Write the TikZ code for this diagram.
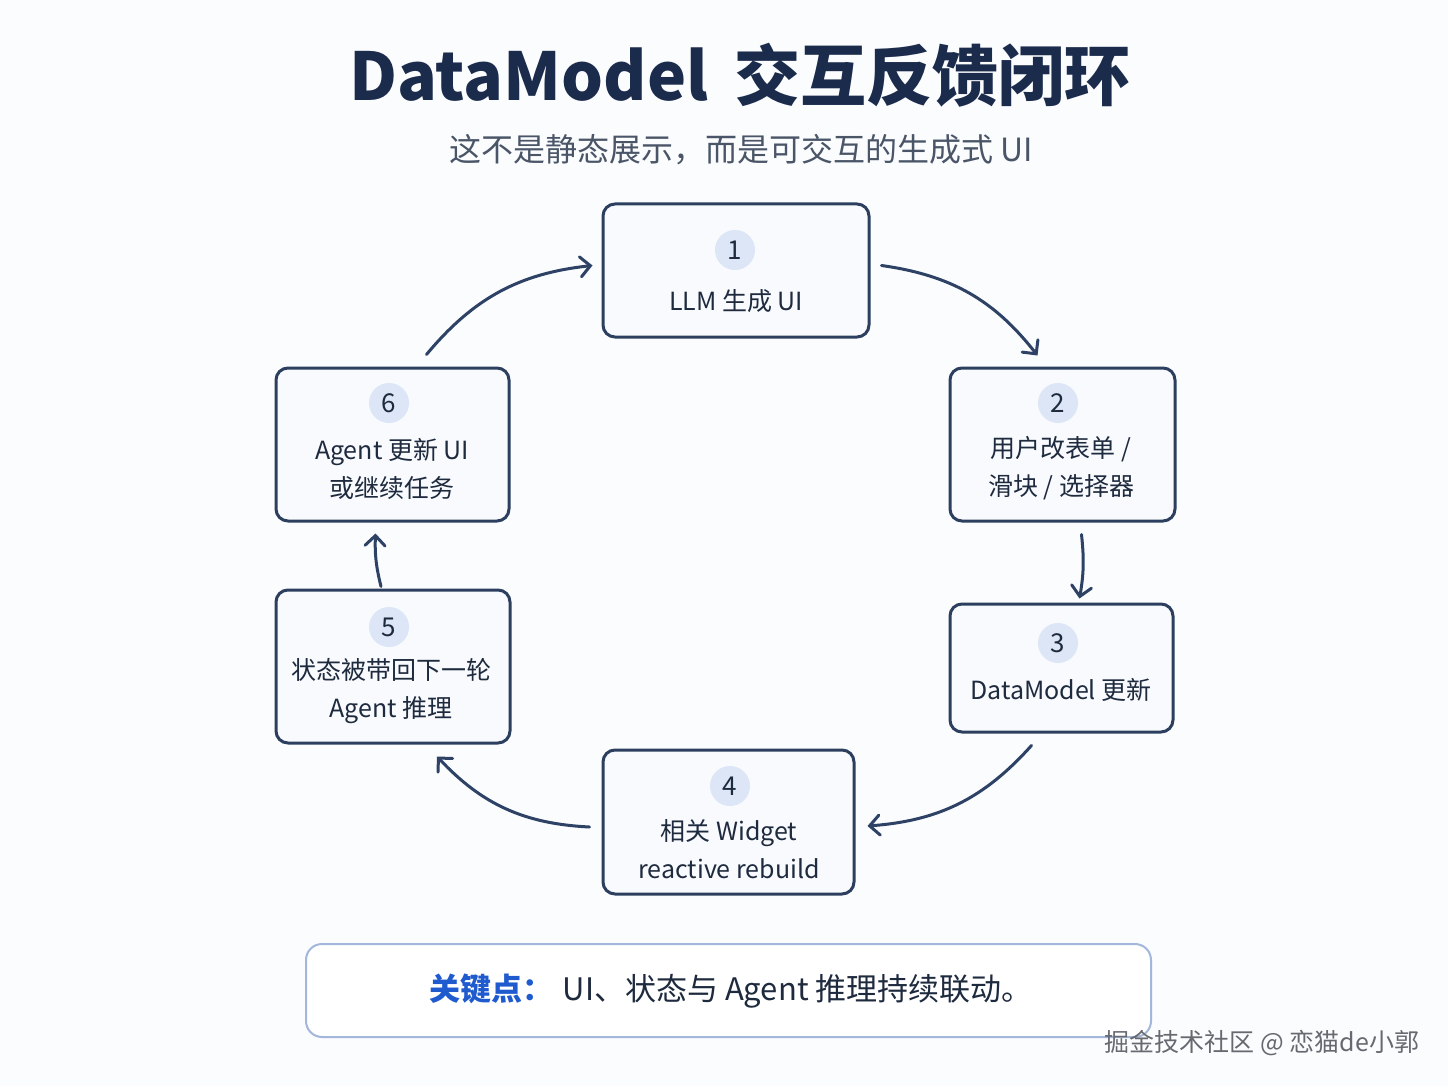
\documentclass[tikz,border=0pt]{standalone}
\usepackage{fontspec}
\setmainfont{Noto Sans CJK SC}
\usetikzlibrary{calc,arrows.meta}
\definecolor{bgc}{HTML}{FBFCFE}
\definecolor{ink}{HTML}{1E2A3E}
\definecolor{titlec}{HTML}{1B2B4B}
\definecolor{subc}{HTML}{4A5568}
\definecolor{boxline}{HTML}{2D3F5E}
\definecolor{boxfill}{HTML}{F8FAFD}
\definecolor{numfill}{HTML}{DCE6F6}
\definecolor{arrowc}{HTML}{2E4266}
\definecolor{keyline}{HTML}{A3B6DB}
\definecolor{keyblue}{HTML}{1F5BCF}
\definecolor{markc}{HTML}{666A70}

\begin{document}
\begin{tikzpicture}[x=0.5pt,y=-0.5pt,
  box/.style={draw=boxline, line width=1.5pt, rounded corners=6pt, fill=boxfill, inner sep=0pt},
  num/.style={circle, fill=numfill, minimum size=20pt, inner sep=0pt, text=ink, font=\fontsize{13}{13}\selectfont},
  lbl/.style={align=center, text=ink, inner sep=0pt, font=\fontsize{12.5}{19}\selectfont},
  flow/.style={draw=arrowc, line width=1.5pt, line cap=round, -{Straight Barb[length=5pt,width=10pt,line cap=round]}}]
  %%%%% background %%%%%
  \fill[bgc] (0,0) rectangle (1448,1086);
  \useasboundingbox (0,0) rectangle (1448,1086);

  %%%%% title %%%%%
  \node[text=titlec, font=\fontsize{33}{33}\selectfont\bfseries] (title) at (740,75) {DataModel\hspace{0.4em}交互反馈闭环};
  \node[text=subc, font=\fontsize{16}{16}\selectfont] (subtitle) at (741,150) {这不是静态展示，而是可交互的生成式 UI};

  %%%%% steps %%%%%
  \node[box, minimum width=133pt, minimum height=66.5pt] (b1) at (736,270.5) {};
  \node[num] (n1) at (735,250) {1};
  \node[lbl] (t1) at (736,301) {LLM 生成 UI};

  \node[box, minimum width=112.5pt, minimum height=76.5pt] (b2) at (1062.5,444.5) {};
  \node[num] (n2) at (1058,403) {2};
  \node[lbl] (t2) at (1061,468) {用户改表单 /\\滑块 / 选择器};

  \node[box, minimum width=111.5pt, minimum height=64pt] (b3) at (1061.5,668) {};
  \node[num] (n3) at (1058,643) {3};
  \node[lbl] (t3) at (1061,690) {DataModel 更新};

  \node[box, minimum width=125.5pt, minimum height=72pt] (b4) at (728.5,822) {};
  \node[num] (n4) at (730,786) {4};
  \node[lbl] (t4) at (729,849.5) {相关 Widget\\reactive rebuild};

  \node[box, minimum width=117pt, minimum height=76.5pt] (b5) at (393,666.5) {};
  \node[num] (n5) at (389,627) {5};
  \node[lbl] (t5) at (391,691) {状态被带回下一轮\\Agent 推理};

  \node[box, minimum width=116.5pt, minimum height=76.5pt] (b6) at (392.5,444.5) {};
  \node[num] (n6) at (389,403) {6};
  \node[lbl] (t6) at (392,468.5) {Agent 更新 UI\\或继续任务};

  %%%%% loop %%%%%
  \draw[flow] ($(b1.east)+(11,-5)$) to[bend left=22] ($(b2.north)+(-25,-11)$);
  \draw[flow] ($(b2.south)+(19,12)$) to[bend left=8] ($(b3.north)+(18,-4)$);
  \draw[flow] ($(b3.south)+(-30,12)$) to[bend left=22] ($(b4.east)+(12,4)$);
  \draw[flow] ($(b4.west)+(-12,5)$) to[bend left=22] ($(b5.south)+(44,12)$);
  \draw[flow] ($(b5.north)+(-12,-2)$) to[bend left=8] ($(b6.south)+(-17,11)$);
  \draw[flow] ($(b6.north)+(34,-12)$) to[bend left=22] ($(b1.west)+(-9,-5)$);

  %%%%% key point %%%%%
  \draw[draw=keyline, line width=1pt, fill=white, rounded corners=8pt] (306,944) rectangle (1151,1037);
  \node[text=ink, font=\fontsize{15.5}{15.5}\selectfont] (key) at (731,991) {{\color{keyblue}\bfseries 关键点：}\hspace{0.3em}UI、状态与 Agent 推理持续联动。};

  \node[text=markc, font=\fontsize{12.5}{12.5}\selectfont] (mark) at (1262,1043) {掘金技术社区 @ 恋猫de小郭};
\end{tikzpicture}
\end{document}
